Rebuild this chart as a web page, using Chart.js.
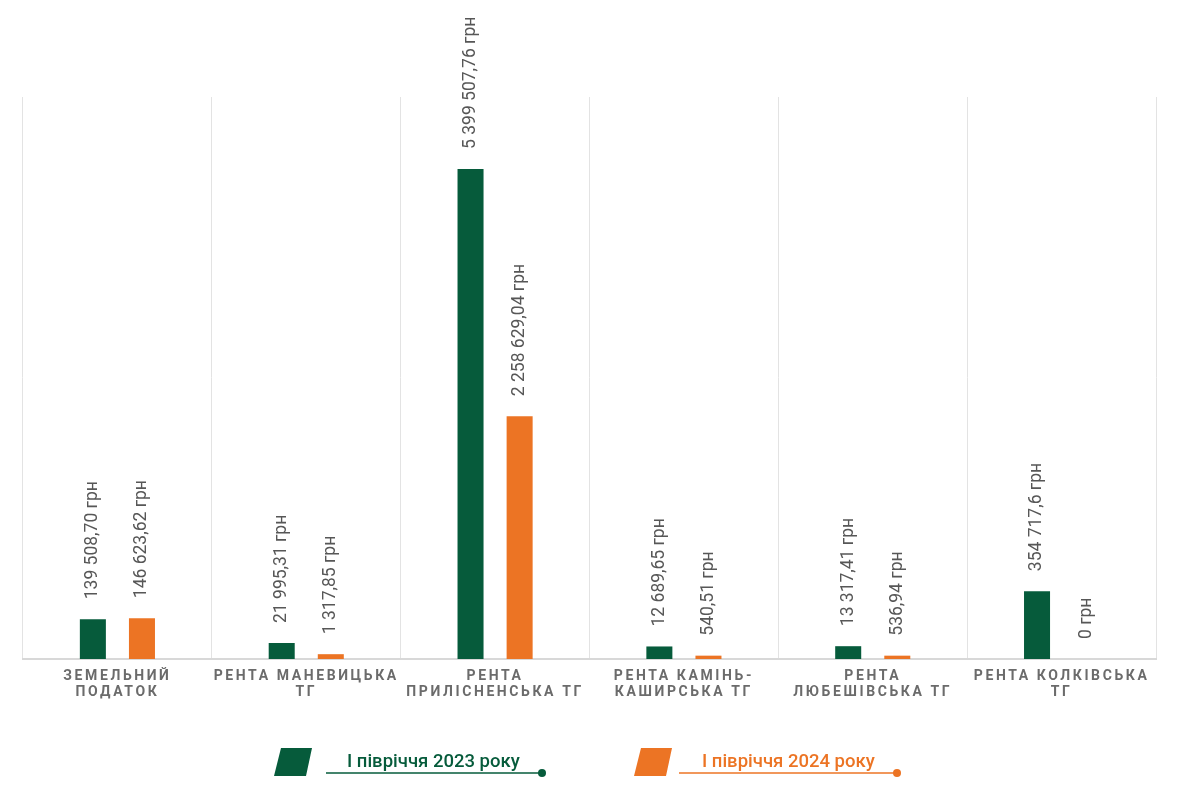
<!DOCTYPE html>
<html><head><meta charset="utf-8">
<script src="https://cdn.jsdelivr.net/npm/chart.js@4.4.1/dist/chart.umd.min.js"></script>
<style>html,body{margin:0;padding:0;background:#fff}canvas{display:block}</style>
</head><body>
<canvas id="c" width="1185" height="800"></canvas>
<script>
// ---- data ----
const categories = [["ЗЕМЕЛЬНИЙ","ПОДАТОК"],["РЕНТА МАНЕВИЦЬКА","ТГ"],["РЕНТА","ПРИЛІСНЕНСЬКА ТГ"],["РЕНТА КАМІНЬ-","КАШИРСЬКА ТГ"],["РЕНТА","ЛЮБЕШІВСЬКА ТГ"],["РЕНТА КОЛКІВСЬКА","ТГ"]];
const seriesNames = ["І півріччя 2023 року","І півріччя 2024 року"];
const values2023 = [139508.70, 21995.31, 5399507.76, 12689.65, 13317.41, 354717.6];
const values2024 = [146623.62, 1317.85, 2258629.04, 540.51, 536.94, 0];
const labels2023 = ["139 508,70 грн","21 995,31 грн","5 399 507,76 грн","12 689,65 грн","13 317,41 грн","354 717,6 грн"];
const labels2024 = ["146 623,62 грн","1 317,85 грн","2 258 629,04 грн","540,51 грн","536,94 грн","0 грн"];
const valueLabels = [labels2023, labels2024];

const GREEN = '#065b3b';
const ORANGE = '#ec7424';

// Non-linear value axis (mostly linear, with a root component that lifts the small bars as in the original)
class BlendScale extends Chart.LinearScale {
  _t(v){ const x = Math.max(0, v - this.min) / (this.max - this.min); return 0.75*x + 0.25*Math.pow(x, 0.4); }
  getPixelForValue(v){ return this.getPixelForDecimal(this._t(v)); }
  getValueForPixel(p){
    const d = this.getDecimalForPixel(p);
    let lo = 0, hi = 1;
    for (let k = 0; k < 40; k++){ const m = (lo+hi)/2; if (0.75*m + 0.25*Math.pow(m,0.4) < d) lo = m; else hi = m; }
    return this.min + lo*(this.max - this.min);
  }
}
BlendScale.id = 'blend';
BlendScale.defaults = Chart.LinearScale.defaults;
Chart.register(BlendScale);

const spacingPlugin = {
  id: 'spacing',
  beforeDraw(chart){ chart.ctx.letterSpacing = '2.6px'; },
  beforeDatasetsDraw(chart){ chart.ctx.letterSpacing = '0px'; }
};

const valueLabelPlugin = {
  id: 'valueLabels',
  afterDatasetsDraw(chart){
    const ctx = chart.ctx;
    chart.data.datasets.forEach((ds, di) => {
      const meta = chart.getDatasetMeta(di);
      meta.data.forEach((bar, i) => {
        ctx.save();
        ctx.translate(bar.x, bar.y - 20);
        ctx.rotate(-Math.PI/2);
        ctx.font = '400 17.5px Roboto';
        ctx.fillStyle = '#575757';
        ctx.textAlign = 'left';
        ctx.textBaseline = 'middle';
        ctx.fillText(valueLabels[di][i], 0, 0);
        ctx.restore();
      });
    });
  }
};

const legendPlugin = {
  id: 'customLegend',
  afterDraw(chart){
    const ctx = chart.ctx;
    const items = [{x: 274, tx: 347, l0: 326, l1: 542}, {x: 634, tx: 702, l0: 679, l1: 897}];
    chart.data.datasets.forEach((ds, di) => {
      const it = items[di];
      const bx = it.x;
      const col = ds.backgroundColor;
      ctx.save();
      ctx.fillStyle = col;
      ctx.beginPath();
      ctx.moveTo(bx + 7, 748);
      ctx.lineTo(bx + 38, 748);
      ctx.lineTo(bx + 32, 776);
      ctx.lineTo(bx, 776);
      ctx.closePath();
      ctx.fill();
      ctx.font = '500 18.5px Roboto';
      ctx.textAlign = 'left';
      ctx.textBaseline = 'alphabetic';
      ctx.fillText(ds.label, it.tx, 767);
      ctx.strokeStyle = col;
      ctx.lineWidth = 1.5;
      ctx.beginPath();
      ctx.moveTo(it.l0, 773);
      ctx.lineTo(it.l1, 773);
      ctx.stroke();
      ctx.beginPath();
      ctx.arc(it.l1, 773, 4, 0, Math.PI*2);
      ctx.fill();
      ctx.restore();
    });
  }
};

new Chart(document.getElementById('c'), {
  type: 'bar',
  data: {
    labels: categories,
    datasets: [
      { label: seriesNames[0], data: values2023, backgroundColor: GREEN, categoryPercentage: 0.52, barPercentage: 0.53 },
      { label: seriesNames[1], data: values2024, backgroundColor: ORANGE, categoryPercentage: 0.52, barPercentage: 0.53 }
    ]
  },
  options: {
    responsive: false,
    animation: false,
    devicePixelRatio: 1,
    layout: { padding: { left: 23, right: 29, top: 97, bottom: 0 } },
    plugins: { legend: { display: false }, tooltip: { enabled: false } },
    scales: {
      x: {
        grid: { color: '#e3e3e3', lineWidth: 1, drawTicks: false, offset: true },
        border: { color: '#d8d8d8', width: 2 },
        ticks: { color: '#6b6b6b', padding: 9, maxRotation: 0, autoSkip: false,
                 font: { family: 'Roboto', size: 14, weight: 'bold', lineHeight: 1.15 } },
        afterFit(scale){ scale.height = 141; }
      },
      y: { type: 'blend', display: false, min: 0, max: 6350000 }
    }
  },
  plugins: [spacingPlugin, valueLabelPlugin, legendPlugin]
});
</script>
</body></html>
